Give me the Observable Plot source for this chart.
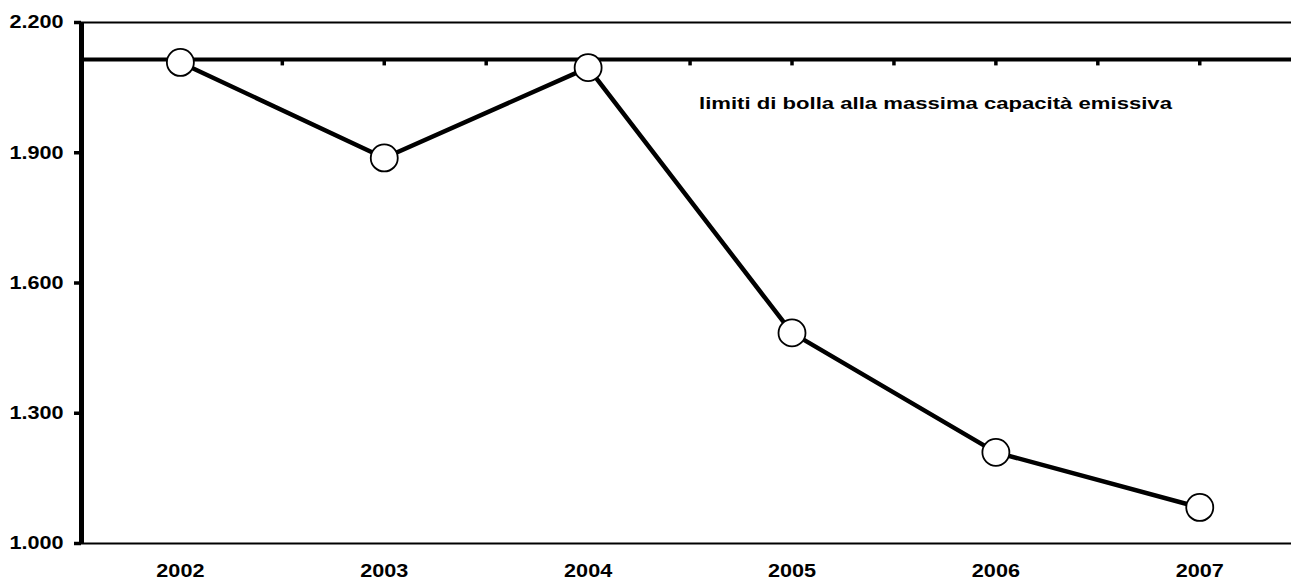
<!DOCTYPE html>
<html>
<head>
<meta charset="utf-8">
<script src="https://cdn.jsdelivr.net/npm/d3@7"></script>
<script src="https://cdn.jsdelivr.net/npm/@observablehq/plot@0.6"></script>
<style>
  html, body { margin: 0; padding: 0; background: #fff; }
  #chart svg { display: block; }
</style>
</head>
<body>
<div id="chart"></div>
<script>
const years = [2002, 2003, 2004, 2005, 2006, 2007];
const values = [2108, 1888, 2096, 1485, 1210, 1083];
const limitValue = 2115;
const limitMarks = [2002, 2002.5, 2003, 2003.5, 2004, 2004.5, 2005, 2005.5, 2006, 2006.5, 2007];
const yTicks = [1000, 1300, 1600, 1900, 2200];
const limitLabel = "limiti di bolla alla massima capacità emissiva";

const data = years.map((y, i) => ({year: y, value: values[i]}));
const itFmt = d3.formatLocale({decimal: ",", thousands: ".", grouping: [3], currency: ["", " €"]}).format(",.0f");

const xMin = 2001.515, xMax = 2007.45;

const chart = Plot.plot({
  width: 1291,
  height: 583,
  marginLeft: 81,
  marginRight: 0,
  marginTop: 22,
  marginBottom: 40,
  style: {fontFamily: "'Liberation Sans', Arial, sans-serif", fontSize: "18px", fontWeight: "bold", color: "#000", background: "#fff"},
  x: {domain: [xMin, xMax]},
  y: {domain: [1000, 2200]},
  marks: [
    Plot.axisX(years, {tickSize: 0, tickPadding: 21, tickFormat: d => String(d), fontWeight: "bold", fontSize: 18, label: null}),
    Plot.axisY(yTicks, {tickSize: 7, tickPadding: 11, strokeWidth: 3.5, tickFormat: itFmt, fontWeight: "bold", fontSize: 18, label: null}),
    Plot.ruleY([2200], {stroke: "#000", strokeWidth: 2}),
    Plot.ruleY([1000], {stroke: "#000", strokeWidth: 2.2}),
    Plot.ruleX([xMin], {stroke: "#000", strokeWidth: 5}),
    Plot.ruleY([limitValue], {stroke: "#000", strokeWidth: 4}),
    Plot.ruleX(limitMarks, {x: d => d, y1: limitValue, y2: limitValue - 15, stroke: "#000", strokeWidth: 3.5}),
    Plot.line(data, {x: "year", y: "value", stroke: "#000", strokeWidth: 4.5}),
    Plot.dot(data, {x: "year", y: "value", r: 13.5, fill: "#fff", stroke: "#000", strokeWidth: 1.8}),
    Plot.text([limitLabel], {x: 2004.544, y: 2013, text: d => d, textAnchor: "start", fontWeight: "bold", fontSize: 17, fill: "#000"})
  ]
});

document.getElementById("chart").appendChild(chart);

// the reference glyphs are horizontally stretched: widen text accordingly
d3.select(chart).selectAll("text").each(function() {
  const w = this.getComputedTextLength();
  if (w > 0) {
    const f = this.textContent === limitLabel ? 1.3 : 1.2;
    this.setAttribute("textLength", (w * f).toFixed(1));
    this.setAttribute("lengthAdjust", "spacingAndGlyphs");
  }
});
</script>
</body>
</html>
